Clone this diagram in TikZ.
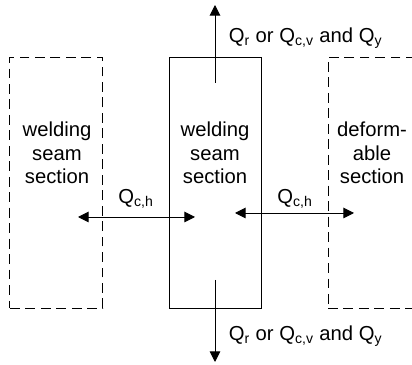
\documentclass[tikz,border=0pt]{standalone}
\usepackage{fontspec}
\setmainfont{Liberation Sans}
\usetikzlibrary{arrows.meta, positioning}
\newcommand{\qsub}[1]{\textsubscript{#1}}

\begin{document}
\begin{tikzpicture}[font=\fontsize{14.4}{16.8}\selectfont,
        section/.style={rectangle, draw, line width=0.7pt, minimum height=6.275cm,
                        align=center, inner sep=0pt},
        opensec/.style={section, dashed, dash pattern=on 7pt off 4pt},
        flow/.style={{Triangle[length=7.5pt,width=7.5pt]}-{Triangle[length=7.5pt,width=7.5pt]}, line width=0.7pt},
        flowup/.style={-{Triangle[length=7.5pt,width=7.5pt]}, line width=0.7pt}
    ]
        \useasboundingbox (0,0) rectangle (10.3,9.125);
        \clip (0,0) rectangle (10.3,9.125);
        % sections
        \node[opensec, minimum width=2.325cm] (left) at (1.41,4.56) {};
        \node[section, minimum width=2.3cm] (mid) at (5.375,4.56) {};
        \node[opensec, minimum width=2.6cm] (right) at (9.5,4.56) {};
        \node[align=center] (ltext) at (1.425,5.3) {welding\\seam\\section};
        \node[align=center] (mtext) at (5.375,5.3) {welding\\seam\\section};
        \node[align=center] (rtext) at (9.3,5.3) {deform-\\able\\section};
        % heat flows
        \coordinate (ltip) at (1.95,3.7);
        \coordinate (lend) at (4.875,3.7);
        \coordinate (rtip) at (5.875,3.8);
        \coordinate (rend) at (8.85,3.8);
        \coordinate (ustart) at (5.375,7.05);
        \coordinate (uend) at (5.375,9.0);
        \coordinate (dstart) at (5.375,2.125);
        \coordinate (dend) at (5.375,0.075);
        \draw[flow] (ltip) -- (lend);
        \draw[flow] (rtip) -- (rend);
        \draw[flowup] (ustart) -- (uend);
        \draw[flowup] (dstart) -- (dend);
        \node (qleft) at (3.4,4.15) {Q\qsub{c,h}};
        \node (qright) at (7.375,4.15) {Q\qsub{c,h}};
        \node[anchor=west] (qtop) at (5.6,8.175) {Q\qsub{r} or Q\qsub{c,v} and Q\qsub{y}};
        \node[anchor=west] (qbot) at (5.6,0.725) {Q\qsub{r} or Q\qsub{c,v} and Q\qsub{y}};
    \end{tikzpicture}
\end{document}
